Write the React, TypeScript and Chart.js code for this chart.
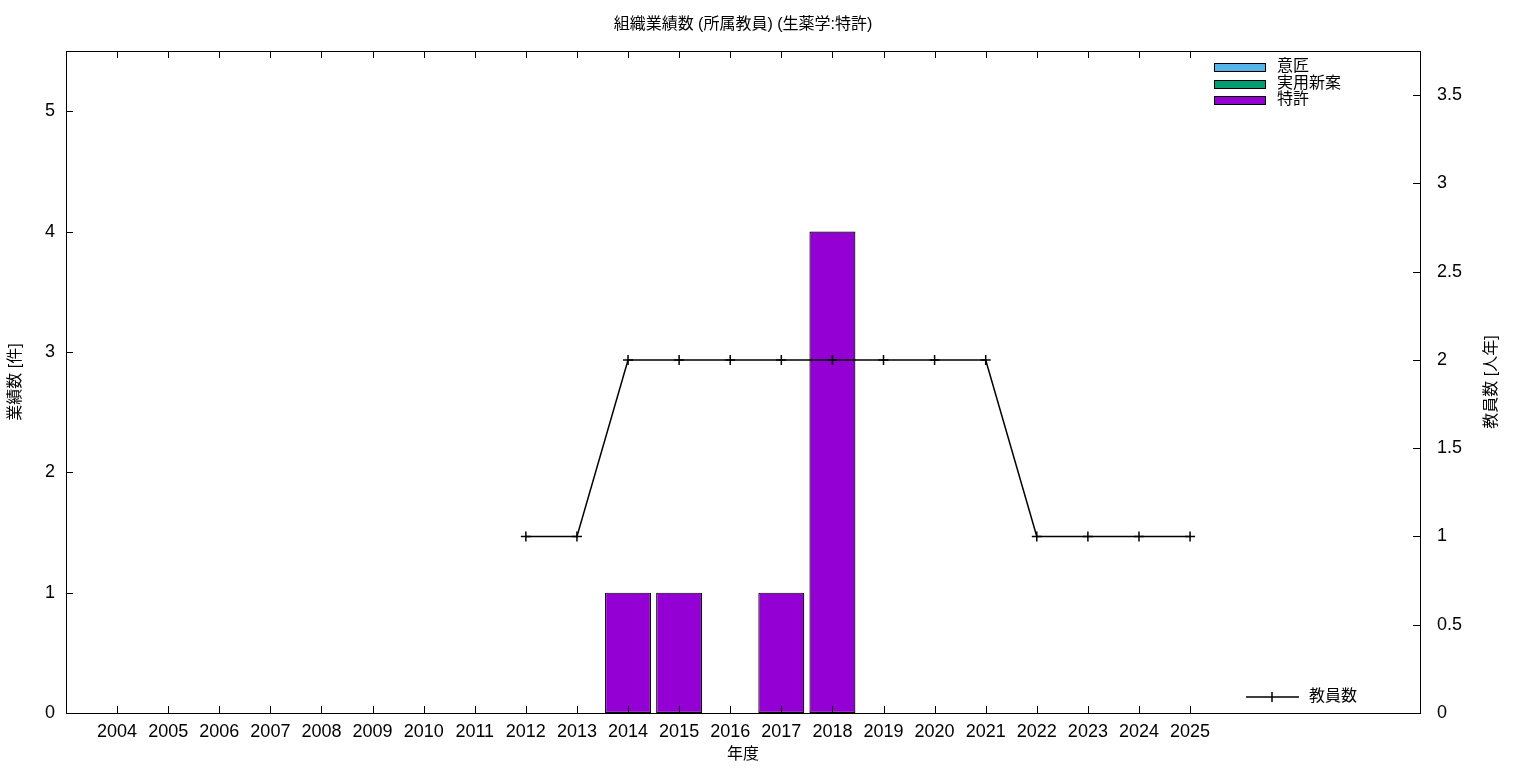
import React, { useEffect, useRef } from "react";
import { Chart, registerables } from "chart.js";

Chart.register(...registerables);

const YEARS = [2004, 2005, 2006, 2007, 2008, 2009, 2010, 2011, 2012, 2013, 2014, 2015, 2016, 2017, 2018, 2019, 2020, 2021, 2022, 2023, 2024, 2025];
const DESIGN = [0, 0, 0, 0, 0, 0, 0, 0, 0, 0, 0, 0, 0, 0, 0, 0, 0, 0, 0, 0, 0, 0];
const UTILITY = [0, 0, 0, 0, 0, 0, 0, 0, 0, 0, 0, 0, 0, 0, 0, 0, 0, 0, 0, 0, 0, 0];
const PATENT = [0, 0, 0, 0, 0, 0, 0, 0, 0, 0, 1, 1, 0, 1, 4, 0, 0, 0, 0, 0, 0, 0];
const STAFF = [null, null, null, null, null, null, null, null, 1, 1, 2, 2, 2, 2, 2, 2, 2, 2, 1, 1, 1, 1];
const LEFT_TICKS = [0, 1, 2, 3, 4, 5];
const RIGHT_TICKS = [0, 0.5, 1, 1.5, 2, 2.5, 3, 3.5];

const TITLE = "組織業績数 (所属教員) (生薬学:特許)";
const X_TITLE = "年度";
const Y_TITLE = "業績数 [件]";
const Y1_TITLE = "教員数 [人年]";
const BAR_LEGEND = [
  { label: "意匠", color: "#56b4e9" },
  { label: "実用新案", color: "#009e73" },
  { label: "特許", color: "#9400d3" },
];
const LINE_LEGEND = "教員数";

const FONT = "'Liberation Sans', 'Noto Sans CJK JP', sans-serif";

const drawPlugin = {
  id: "gnuplotDecor",
  afterDraw(chart: any) {
    const ctx = chart.ctx;
    const a = chart.chartArea;
    const xs = chart.scales.x;
    const ys = chart.scales.y;
    const y1 = chart.scales.y1;
    ctx.save();
    ctx.strokeStyle = "#000";
    ctx.lineWidth = 1;
    // border
    ctx.strokeRect(Math.round(a.left) + 0.5, Math.round(a.top) + 0.5, Math.round(a.right - a.left), Math.round(a.bottom - a.top));
    const TL = 7;
    ctx.beginPath();
    for (const yr of YEARS) {
      const px = Math.round(xs.getPixelForValue(yr)) + 0.5;
      ctx.moveTo(px, a.bottom);
      ctx.lineTo(px, a.bottom - TL);
      ctx.moveTo(px, a.top);
      ctx.lineTo(px, a.top + TL);
    }
    for (const v of LEFT_TICKS) {
      const py = Math.round(ys.getPixelForValue(v)) + 0.5;
      ctx.moveTo(a.left, py);
      ctx.lineTo(a.left + TL, py);
    }
    for (const v of RIGHT_TICKS) {
      const py = Math.round(y1.getPixelForValue(v)) + 0.5;
      ctx.moveTo(a.right, py);
      ctx.lineTo(a.right - TL, py);
    }
    ctx.stroke();

    // titles
    ctx.fillStyle = "#000";
    ctx.textAlign = "center";
    ctx.textBaseline = "middle";
    ctx.font = `16px ${FONT}`;
    const cx = (a.left + a.right) / 2;
    ctx.fillText(TITLE, cx, 25);
    ctx.fillText(X_TITLE, cx, 755);
    const cy = (a.top + a.bottom) / 2;
    ctx.save();
    ctx.translate(16, cy);
    ctx.rotate(-Math.PI / 2);
    ctx.fillText(Y_TITLE, 0, 0);
    ctx.restore();
    ctx.save();
    ctx.translate(1492, cy);
    ctx.rotate(-Math.PI / 2);
    ctx.fillText(Y1_TITLE, 0, 0);
    ctx.restore();

    // bar legend
    ctx.textAlign = "left";
    BAR_LEGEND.forEach((item, i) => {
      const yc = 67 + i * 16.5;
      ctx.fillStyle = item.color;
      ctx.fillRect(1214, Math.round(yc - 4), 51, 8);
      ctx.strokeStyle = "#000";
      ctx.lineWidth = 1;
      ctx.strokeRect(1214.5, Math.round(yc - 4) + 0.5, 51, 8);
      ctx.fillStyle = "#000";
      ctx.fillText(item.label, 1277, yc);
    });

    // line legend
    ctx.strokeStyle = "#000";
    ctx.lineWidth = 1.5;
    ctx.beginPath();
    ctx.moveTo(1246, 697);
    ctx.lineTo(1299, 697);
    ctx.moveTo(1272, 692);
    ctx.lineTo(1272, 702);
    ctx.stroke();
    ctx.fillStyle = "#000";
    ctx.fillText(LINE_LEGEND, 1309, 697);
    ctx.restore();
  },
};

export default function App() {
  const ref = useRef<HTMLCanvasElement | null>(null);
  useEffect(() => {
    if (!ref.current) return;
    const barCommon = {
      type: "bar" as const,
      yAxisID: "y",
      xAxisID: "x",
      borderColor: "#000",
      borderWidth: 1.2,
      borderSkipped: false,
      categoryPercentage: 1,
      barPercentage: 0.9,
      stack: "s",
      order: 1,
    };
    const chart = new Chart(ref.current, {
      type: "bar",
      data: {
        datasets: [
          {
            type: "line",
            label: LINE_LEGEND,
            data: YEARS.map((x, i) => ({ x, y: STAFF[i] })) as any,
            yAxisID: "y1",
            xAxisID: "x",
            borderColor: "#000",
            backgroundColor: "#000",
            borderWidth: 1.5,
            pointStyle: "cross",
            pointRadius: 5,
            pointBorderWidth: 1.5,
            pointBorderColor: "#000",
            spanGaps: false,
            tension: 0,
            order: 0,
          } as any,
          { ...barCommon, label: BAR_LEGEND[0].label, backgroundColor: BAR_LEGEND[0].color, data: YEARS.map((x, i) => ({ x, y: DESIGN[i] })) } as any,
          { ...barCommon, label: BAR_LEGEND[1].label, backgroundColor: BAR_LEGEND[1].color, data: YEARS.map((x, i) => ({ x, y: UTILITY[i] })) } as any,
          { ...barCommon, label: BAR_LEGEND[2].label, backgroundColor: BAR_LEGEND[2].color, data: YEARS.map((x, i) => ({ x, y: PATENT[i] })) } as any,
        ],
      },
      options: {
        animation: false,
        responsive: false,
        devicePixelRatio: 1,
        layout: { padding: { top: 51, left: 0, right: 0, bottom: 0 } },
        plugins: { legend: { display: false }, title: { display: false }, tooltip: { enabled: false } },
        scales: {
          x: {
            type: "linear",
            min: 2003,
            max: 2029.5,
            offset: false,
            stacked: true,
            grid: { display: false, drawTicks: false },
            border: { display: false },
            afterBuildTicks: (s: any) => {
              s.ticks = YEARS.map((v) => ({ value: v }));
            },
            afterFit: (s: any) => {
              s.height = 55;
            },
            ticks: {
              autoSkip: false,
              maxRotation: 0,
              minRotation: 0,
              padding: 8,
              color: "#000",
              font: { family: FONT, size: 18 },
              callback: (v: any) => String(v),
            },
          },
          y: {
            type: "linear",
            position: "left",
            min: 0,
            max: 5.5,
            stacked: true,
            grid: { display: false, drawTicks: false },
            border: { display: false },
            afterBuildTicks: (s: any) => {
              s.ticks = LEFT_TICKS.map((v) => ({ value: v }));
            },
            afterFit: (s: any) => {
              s.width = 66;
            },
            ticks: {
              padding: 11,
              color: "#000",
              font: { family: FONT, size: 18 },
              callback: (v: any) => String(v),
            },
          },
          y1: {
            type: "linear",
            position: "right",
            min: 0,
            max: 3.75,
            grid: { display: false, drawTicks: false },
            border: { display: false },
            afterBuildTicks: (s: any) => {
              s.ticks = RIGHT_TICKS.map((v) => ({ value: v }));
            },
            afterFit: (s: any) => {
              s.width = 116;
            },
            ticks: {
              padding: 17,
              color: "#000",
              font: { family: FONT, size: 18 },
              callback: (v: any) => String(v),
            },
          },
        },
      },
      plugins: [drawPlugin],
    });
    return () => chart.destroy();
  }, []);
  return (
    <div style={{ position: "fixed", left: 0, top: 0, width: 1536, height: 768, background: "#fff" }}>
      <canvas ref={ref} width={1536} height={768} style={{ width: 1536, height: 768, display: "block" }} />
    </div>
  );
}
